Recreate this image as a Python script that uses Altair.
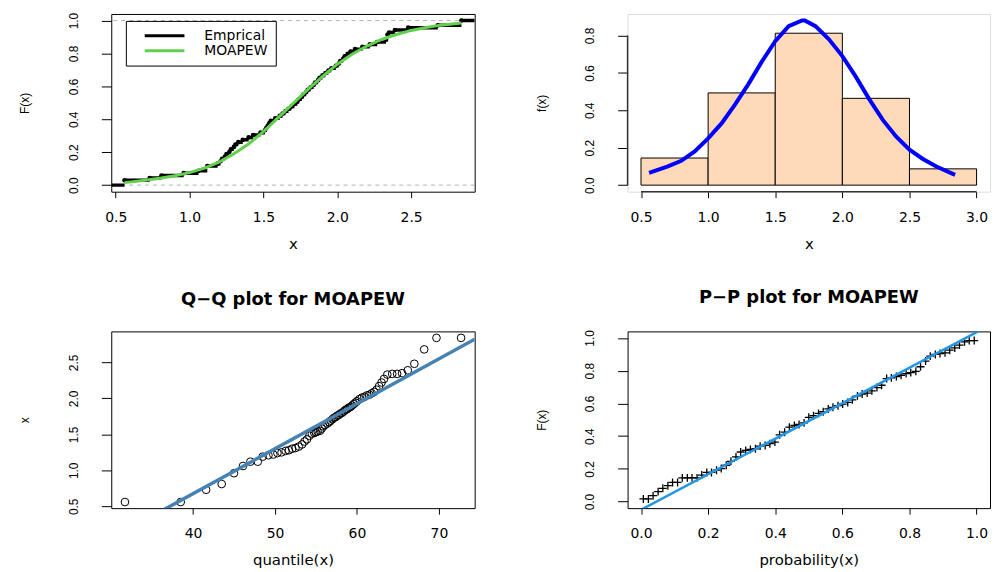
import altair as alt
import pandas as pd

# ------------------------------------------------------------------ data
data_sorted = [0.56, 0.56, 0.73, 0.81, 0.96,
               1.06, 1.12, 1.12, 1.19, 1.21, 1.22, 1.24, 1.25, 1.27, 1.28, 1.30, 1.31, 1.33, 1.36, 1.40, 1.43, 1.48,
               1.51, 1.52, 1.53, 1.54, 1.55, 1.58, 1.61, 1.63, 1.65, 1.67, 1.69, 1.71, 1.73, 1.74, 1.76, 1.77, 1.79,
               1.80, 1.82, 1.84, 1.85, 1.87, 1.88, 1.90, 1.92, 1.94, 1.96, 1.99,
               2.01, 2.02, 2.04, 2.05, 2.07, 2.09, 2.12, 2.17, 2.22, 2.27, 2.33, 2.34, 2.34, 2.35, 2.39, 2.48,
               2.68, 2.84, 2.84]

cdf_x = [0.56, 0.7, 0.8, 0.9, 1.0, 1.1, 1.2, 1.3, 1.4, 1.5, 1.6, 1.7, 1.8, 1.9, 2.0, 2.1, 2.2, 2.3, 2.4,
         2.5, 2.6, 2.7, 2.84]
cdf_y = [0.015, 0.03, 0.042, 0.057, 0.076, 0.103, 0.14, 0.19, 0.25, 0.325, 0.41, 0.495, 0.58, 0.66, 0.735,
         0.795, 0.845, 0.885, 0.915, 0.94, 0.958, 0.972, 0.985]

bin_lo = [0.5, 1.0, 1.5, 2.0, 2.5]
bin_hi = [1.0, 1.5, 2.0, 2.5, 3.0]
bin_density = [0.145, 0.493, 0.812, 0.464, 0.087]

dens_x = [0.56, 0.7, 0.8, 0.9, 1.0, 1.1, 1.2, 1.3, 1.4, 1.5, 1.6, 1.7, 1.72, 1.8, 1.9, 2.0, 2.1, 2.2, 2.3,
          2.4, 2.5, 2.6, 2.7, 2.84]
dens_y = [0.066, 0.1, 0.13, 0.18, 0.25, 0.33, 0.43, 0.54, 0.66, 0.77, 0.85, 0.88, 0.88, 0.85, 0.78, 0.69,
          0.58, 0.46, 0.35, 0.26, 0.19, 0.14, 0.10, 0.055]

qq_theoretical = [31.7, 38.5, 41.6, 43.5, 45.0,
                  46.1, 47.0, 47.9, 48.5, 49.2, 49.8, 50.3, 50.8, 51.3, 51.7, 52.1, 52.5, 52.9, 53.3, 53.6, 53.9, 54.2,
                  54.5, 54.8, 55.0, 55.2, 55.5, 55.7, 55.9, 56.1, 56.4, 56.6, 56.8, 57.0, 57.2, 57.4, 57.6, 57.8,
                  58.0, 58.2, 58.4, 58.6, 58.8, 59.0, 59.2, 59.4, 59.6, 59.8, 60.0, 60.3,
                  60.6, 60.9, 61.2, 61.5, 61.8, 62.1, 62.4, 62.7, 63.0, 63.3, 63.7, 64.3, 64.9, 65.5, 66.2, 67.0,
                  68.2, 69.7, 72.7]
qq_intercept = -1.82
qq_slope = 0.0624

pp_prob = [0.007, 0.022, 0.036, 0.051, 0.065, 0.080, 0.094, 0.109, 0.123, 0.138, 0.152, 0.167, 0.181,
           0.196, 0.210, 0.225, 0.239, 0.254, 0.268, 0.283, 0.297, 0.312, 0.326, 0.341, 0.355, 0.370,
           0.384, 0.399, 0.413, 0.428, 0.442, 0.457, 0.471, 0.486, 0.500, 0.514, 0.529, 0.543, 0.558,
           0.572, 0.587, 0.601, 0.616, 0.630, 0.645, 0.659, 0.674, 0.688, 0.703, 0.717, 0.732, 0.746,
           0.761, 0.775, 0.790, 0.804, 0.819, 0.833, 0.848, 0.862, 0.877, 0.891, 0.906, 0.920, 0.935,
           0.949, 0.964, 0.978, 0.993]
pp_F = [0.016, 0.016, 0.036, 0.061, 0.081, 0.097, 0.117, 0.117, 0.145, 0.145, 0.145, 0.145, 0.162,
        0.178, 0.178, 0.192, 0.202, 0.222, 0.246, 0.273, 0.303, 0.313, 0.319, 0.323, 0.339, 0.343,
        0.354, 0.364, 0.408, 0.424, 0.455, 0.465, 0.471, 0.481, 0.515, 0.525, 0.539, 0.549, 0.566,
        0.576, 0.586, 0.596, 0.606, 0.622, 0.646, 0.657, 0.663, 0.677, 0.697, 0.711, 0.752, 0.756,
        0.764, 0.772, 0.782, 0.788, 0.796, 0.824, 0.859, 0.889, 0.899, 0.905, 0.909, 0.925, 0.939,
        0.956, 0.976, 0.984, 0.984]
pp_intercept = -0.05
pp_slope = 1.085

series_names = ["Emprical", "MOAPEW"]
series_colors = ["black", "#61D04F"]

ecdf_xticks = [0.5, 1.0, 1.5, 2.0, 2.5]
ecdf_yticks = [0.0, 0.2, 0.4, 0.6, 0.8, 1.0]
hist_xticks = [0.5, 1.0, 1.5, 2.0, 2.5, 3.0]
hist_yticks = [0.0, 0.2, 0.4, 0.6, 0.8]
qq_xticks = [40, 50, 60, 70]
qq_yticks = [0.5, 1.0, 1.5, 2.0, 2.5]
pp_ticks = [0.0, 0.2, 0.4, 0.6, 0.8, 1.0]

qq_title = "Q\u2212Q plot for  MOAPEW"
pp_title = "P\u2212P plot for  MOAPEW"

# ------------------------------------------------------------------ layout
WL, WR, HT, HB = 366, 365, 179, 178
FH = "DejaVu Sans"
FV = "Liberation Sans"

X1_DOM = [0.47, 2.93]
Y1_DOM = [-0.04, 1.04]
X2_DOM = [0.4, 3.1]
Y2_DOM = [-0.035, 0.915]
X3_DOM = [30.03, 74.36]
Y3_DOM = [0.475, 2.93]
X4_DOM = [-0.04, 1.04]
Y4_DOM = [-0.04, 1.04]


def x_axis(title, values, fmt, width):
    return alt.Axis(title=title, values=values, tickCount=20, format=fmt, grid=False, domain=False,
                    tickSize=6, tickColor="black", tickWidth=1,
                    labelFont=FH, labelFontSize=14, labelColor="black", labelPadding=13,
                    labelFlush=False, labelOverlap=False,
                    titleFont=FH, titleFontSize=15, titleFontWeight="normal", titleColor="black",
                    titleX=width / 2, titleY=57, titleAlign="center", titleBaseline="alphabetic")


def y_axis(title, values, fmt, height):
    return alt.Axis(title=title, values=values, tickCount=20, format=fmt, grid=False, domain=False,
                    tickSize=10, tickColor="black", tickWidth=1,
                    labelFont=FV, labelFontSize=12, labelColor="black", labelAngle=270,
                    labelAlign="center", labelBaseline="alphabetic", labelPadding=24,
                    labelFlush=False, labelOverlap=False,
                    titleFont=FV, titleFontSize=12, titleFontWeight="normal", titleColor="black",
                    titleAngle=270, titleX=-83, titleY=height / 2, titleAlign="center",
                    titleBaseline="alphabetic")


box = alt.ViewBackground(stroke="black", strokeWidth=1)

# ------------------------------------------------------------------ panel 1: ECDF
n = len(data_sorted)
knots = sorted(set(data_sorted))
levels = [sum(1 for v in data_sorted if v <= k) / n for k in knots]
seg = pd.DataFrame({
    "x0": [X1_DOM[0]] + knots,
    "x1": knots + [X1_DOM[1]],
    "F": [0.0] + levels,
    "series": series_names[0],
})
knot_df = pd.DataFrame({"x": knots, "F": levels})
cdf_df = pd.DataFrame({"x": cdf_x, "F": cdf_y, "series": series_names[1]})
ref_df = pd.DataFrame({"F": [0.0, 1.0]})

x1s = alt.Scale(domain=X1_DOM, nice=False, zero=False)
y1s = alt.Scale(domain=Y1_DOM, nice=False, zero=False)
color_scale = alt.Scale(domain=series_names, range=series_colors)

legend = alt.Legend(title=None, orient="none", legendX=14.7, legendY=7,
                    symbolType="M-4,0L4,0", symbolStrokeWidth=3, symbolSize=100,
                    strokeColor="black", fillColor="white", padding=8,
                    symbolOffset=24, labelOffset=33, labelFont=FH, labelFontSize=14,
                    labelColor="black", rowPadding=1, cornerRadius=0)

p1_ref = alt.Chart(ref_df).mark_rule(color="#B3B3B3", strokeDash=[4, 4], strokeWidth=1).encode(
    y=alt.Y("F:Q", scale=y1s, axis=y_axis("F(x)", ecdf_yticks, ".1f", HT)))
p1_steps = alt.Chart(seg).mark_rule(strokeWidth=3.5, clip=True).encode(
    x=alt.X("x0:Q", scale=x1s, axis=x_axis("x", ecdf_xticks, ".1f", WL)),
    x2="x1:Q",
    y=alt.Y("F:Q", scale=y1s),
    color=alt.Color("series:N", scale=color_scale, legend=legend))
p1_pts = alt.Chart(knot_df).mark_circle(size=22, color="black", opacity=1).encode(
    x=alt.X("x:Q", scale=x1s), y=alt.Y("F:Q", scale=y1s))
p1_cdf = alt.Chart(cdf_df).mark_line(strokeWidth=3).encode(
    x=alt.X("x:Q", scale=x1s), y=alt.Y("F:Q", scale=y1s),
    color=alt.Color("series:N", scale=color_scale, legend=legend))
p1 = alt.layer(p1_ref, p1_steps, p1_pts, p1_cdf).properties(width=WL, height=HT, view=box)

# ------------------------------------------------------------------ panel 2: histogram + density
hist_df = pd.DataFrame({"lo": bin_lo, "hi": bin_hi, "d": bin_density, "zero": [0.0] * len(bin_lo)})
dens_df = pd.DataFrame({"x": dens_x, "f": dens_y})
x2s = alt.Scale(domain=X2_DOM, nice=False, zero=False)
y2s = alt.Scale(domain=Y2_DOM, nice=False, zero=False)

p2_bars = alt.Chart(hist_df).mark_rect(fill="#FFDAB9", stroke="black", strokeWidth=1).encode(
    x=alt.X("lo:Q", scale=x2s, axis=x_axis("x", hist_xticks, ".1f", WR)),
    x2="hi:Q",
    y=alt.Y("zero:Q", scale=y2s, axis=y_axis("f(x)", hist_yticks, ".1f", HT)),
    y2="d:Q")
p2_curve = alt.Chart(dens_df).mark_line(color="blue", strokeWidth=4).encode(
    x=alt.X("x:Q", scale=x2s), y=alt.Y("f:Q", scale=y2s))
p2_xline = alt.Chart(pd.DataFrame({"a": [hist_xticks[0]], "b": [hist_xticks[-1]]})).mark_rule(
    color="#333333", strokeWidth=1.5).encode(
    x=alt.X("a:Q", scale=x2s), x2="b:Q", y=alt.value(HT))
p2_yline = alt.Chart(pd.DataFrame({"a": [hist_yticks[0]], "b": [hist_yticks[-1]]})).mark_rule(
    color="#333333", strokeWidth=1.5).encode(
    y=alt.Y("a:Q", scale=y2s), y2="b:Q", x=alt.value(0))
p2 = alt.layer(p2_bars, p2_curve, p2_xline, p2_yline).properties(width=WR, height=HT)

# ------------------------------------------------------------------ panel 3: Q-Q
qq_df = pd.DataFrame({"q": qq_theoretical, "x": data_sorted})
qq_line = pd.DataFrame({"q": X3_DOM, "x": [qq_intercept + qq_slope * v for v in X3_DOM]})
x3s = alt.Scale(domain=X3_DOM, nice=False, zero=False)
y3s = alt.Scale(domain=Y3_DOM, nice=False, zero=False)

p3_pts = alt.Chart(qq_df).mark_point(shape="circle", filled=False, color="black", size=60,
                                     strokeWidth=1, opacity=1).encode(
    x=alt.X("q:Q", scale=x3s, axis=x_axis("quantile(x)", qq_xticks, "d", WL)),
    y=alt.Y("x:Q", scale=y3s, axis=y_axis("x", qq_yticks, ".1f", HB)))
p3_line = alt.Chart(qq_line).mark_line(color="#4682B4", strokeWidth=3.5, clip=True).encode(
    x=alt.X("q:Q", scale=x3s), y=alt.Y("x:Q", scale=y3s))
title_style = dict(font=FH, fontSize=18, fontWeight="bold", color="black", anchor="middle",
                   frame="group", offset=9, baseline="alphabetic")
p3 = alt.layer(p3_pts, p3_line).properties(width=WL, height=HB, view=box,
                                           title=alt.TitleParams(text=qq_title, **title_style))

# ------------------------------------------------------------------ panel 4: P-P
pp_df = pd.DataFrame({"p": pp_prob, "F": pp_F})
pp_line = pd.DataFrame({"p": X4_DOM, "F": [pp_intercept + pp_slope * v for v in X4_DOM]})
x4s = alt.Scale(domain=X4_DOM, nice=False, zero=False)
y4s = alt.Scale(domain=Y4_DOM, nice=False, zero=False)

p4_pts = alt.Chart(pp_df).mark_point(shape="M-1,0L1,0M0,-1L0,1", filled=False, color="black",
                                     size=64, strokeWidth=1.3, opacity=1).encode(
    x=alt.X("p:Q", scale=x4s, axis=x_axis("probability(x)", pp_ticks, ".1f", WR)),
    y=alt.Y("F:Q", scale=y4s, axis=y_axis("F(x)", pp_ticks, ".1f", HB)))
p4_line = alt.Chart(pp_line).mark_line(color="#2297E6", strokeWidth=2.5, clip=True).encode(
    x=alt.X("p:Q", scale=x4s), y=alt.Y("F:Q", scale=y4s))
p4 = alt.layer(p4_pts, p4_line).properties(width=WR, height=HB, view=box,
                                           title=alt.TitleParams(text=pp_title, **title_style))

# ------------------------------------------------------------------ assemble
chart = alt.concat(p1, p2, p3, p4, columns=2,
                   spacing=alt.RowColnumber(row=140.7, column=154),
                   bounds="flush").properties(
    padding={"left": 10, "top": 1, "right": 0, "bottom": 0}
).configure_view(stroke="transparent").configure(background="white")

chart.save("out.html", embed_options={"renderer": "svg", "actions": False})
